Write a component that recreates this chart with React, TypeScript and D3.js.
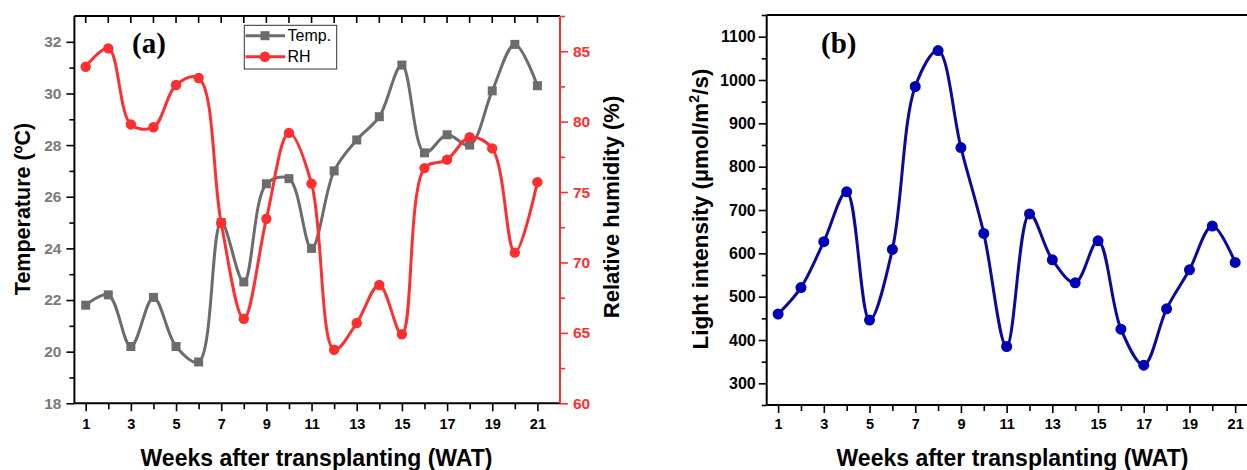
import React, { useEffect, useRef } from 'react';
import * as d3 from 'd3';

// ---------- data ----------
const weeks = [1, 2, 3, 4, 5, 6, 7, 8, 9, 10, 11, 12, 13, 14, 15, 16, 17, 18, 19, 20, 21];
const tempValues = [21.8, 22.2, 20.2, 22.1, 20.2, 19.6, 25.0, 22.7, 26.5, 26.7, 24.0, 27.0, 28.2, 29.1, 31.1, 27.7, 28.4, 28.0, 30.1, 31.9, 30.3];
const rhValues = [83.9, 85.2, 79.8, 79.6, 82.6, 83.1, 72.8, 66.0, 73.1, 79.2, 75.6, 63.8, 65.7, 68.4, 64.9, 76.7, 77.3, 78.9, 78.1, 70.7, 75.7];
const lightValues = [460, 521, 627, 742, 446, 609, 985, 1068, 844, 646, 385, 691, 585, 532, 629, 425, 342, 472, 562, 663, 579];

const xTickLabels = [1, 3, 5, 7, 9, 11, 13, 15, 17, 19, 21];
const tempTicks = [18, 20, 22, 24, 26, 28, 30, 32];
const tempMinor = [19, 21, 23, 25, 27, 29, 31];
const rhTicks = [60, 65, 70, 75, 80, 85];
const rhMinor = [62.5, 67.5, 72.5, 77.5, 82.5, 87.5];
const lightTicks = [300, 400, 500, 600, 700, 800, 900, 1000, 1100];
const lightMinor = [250, 350, 450, 550, 650, 750, 850, 950, 1050, 1150];

const GRAY = '#6c6c6c';
const RED = '#ff2f2f';
const BLUE = '#0a0a9c';
const SANS = '"Liberation Sans", Arial, sans-serif';
const SERIF = '"Liberation Serif", "DejaVu Serif", serif';

export default function App() {
  const ref = useRef<SVGSVGElement>(null);

  useEffect(() => {
    const svg = d3.select(ref.current);
    svg.selectAll('*').remove();

    // styles the axis text and tick lines, makes minor ticks shorter
    const styleAxis = (g: any, color: string, labelColor: string, minor: number[], majorLen: number, minorLen: number, dir: number, horizontal: boolean, fontSize: string) => {
      g.select('.domain').remove();
      g.selectAll('line').attr('stroke', color).attr('stroke-width', 1.6);
      g.selectAll('.tick').each(function (d: any) {
        const isMinor = minor.indexOf(d) >= 0;
        const len = (isMinor ? minorLen : majorLen) * dir;
        const line = d3.select(this).select('line');
        if (horizontal) line.attr('y2', len);
        else line.attr('x2', len);
      });
      g.selectAll('text')
        .attr('fill', labelColor)
        .style('font-family', SANS)
        .style('font-weight', 'bold')
        .style('font-size', fontSize);
    };

    // =============== PANEL (a) ===============
    const xA = d3.scaleLinear().domain([0.5, 22]).range([74.4, 560]);
    const yTemp = d3.scaleLinear().domain([18, 33]).range([403.3, 16]);
    const yRh = d3.scaleLinear().domain([60, 87.5]).range([403.3, 16]);
    const a = svg.append('g');

    // bottom axis
    const xAxisA = d3.axisBottom(xA).tickValues(weeks).tickSizeOuter(0)
      .tickFormat((d: any) => (xTickLabels.indexOf(d) >= 0 ? String(d) : ''));
    const gxa = a.append('g').attr('transform', 'translate(0,403.3)').call(xAxisA);
    styleAxis(gxa, '#000', '#000', weeks.filter(w => xTickLabels.indexOf(w) < 0), 8, 6, 1, true, '14.5px');
    gxa.selectAll('text').attr('y', 15);

    // top ticks (inward)
    a.append('g').selectAll('line').data(weeks).enter().append('line')
      .attr('x1', d => xA(d)).attr('x2', d => xA(d))
      .attr('y1', 16).attr('y2', 23)
      .attr('stroke', '#000').attr('stroke-width', 1.6);

    // left axis (temperature)
    const yAxisT = d3.axisLeft(yTemp).tickValues([...tempTicks, ...tempMinor]).tickSizeOuter(0)
      .tickFormat((d: any) => (tempTicks.indexOf(d) >= 0 ? String(d) : ''));
    const gyt = a.append('g').attr('transform', 'translate(74.4,0)').call(yAxisT);
    styleAxis(gyt, '#000', '#7a7a7a', tempMinor, 8, 5, -1, false, '15.5px');
    gyt.selectAll('text').attr('x', -13);

    // right axis (RH)
    const yAxisR = d3.axisRight(yRh).tickValues([...rhTicks, ...rhMinor]).tickSizeOuter(0)
      .tickFormat((d: any) => (rhTicks.indexOf(d) >= 0 ? String(d) : ''));
    const gyr = a.append('g').attr('transform', 'translate(560,0)').call(yAxisR);
    styleAxis(gyr, RED, RED, rhMinor, 8, 5, 1, false, '15.5px');
    gyr.selectAll('text').attr('x', 13);

    // frame
    a.append('line').attr('x1', 74.4).attr('x2', 560).attr('y1', 16).attr('y2', 16).attr('stroke', '#000').attr('stroke-width', 2);
    a.append('line').attr('x1', 74.4).attr('x2', 560).attr('y1', 403.3).attr('y2', 403.3).attr('stroke', '#000').attr('stroke-width', 2);
    a.append('line').attr('x1', 74.4).attr('x2', 74.4).attr('y1', 16).attr('y2', 403.3).attr('stroke', '#000').attr('stroke-width', 2);
    a.append('line').attr('x1', 560).attr('x2', 560).attr('y1', 16).attr('y2', 403.3).attr('stroke', RED).attr('stroke-width', 2);

    // temperature series
    const tempLine = d3.line<number>().x((d, i) => xA(weeks[i])).y(d => yTemp(d)).curve(d3.curveCatmullRom.alpha(0.5));
    a.append('path').attr('d', tempLine(tempValues)).attr('fill', 'none').attr('stroke', GRAY).attr('stroke-width', 3);
    a.selectAll('rect.temp').data(tempValues).enter().append('rect')
      .attr('class', 'temp')
      .attr('x', (d, i) => xA(weeks[i]) - 4.5).attr('y', d => yTemp(d) - 4.5)
      .attr('width', 9).attr('height', 9).attr('fill', GRAY);

    // RH series
    const rhLine = d3.line<number>().x((d, i) => xA(weeks[i])).y(d => yRh(d)).curve(d3.curveCatmullRom.alpha(0.5));
    a.append('path').attr('d', rhLine(rhValues)).attr('fill', 'none').attr('stroke', RED).attr('stroke-width', 3);
    a.selectAll('circle.rh').data(rhValues).enter().append('circle')
      .attr('class', 'rh')
      .attr('cx', (d, i) => xA(weeks[i])).attr('cy', d => yRh(d))
      .attr('r', 5.2).attr('fill', RED);

    // legend
    const leg = a.append('g');
    leg.append('rect').attr('x', 244.3).attr('y', 25.3).attr('width', 92.4).attr('height', 43.7)
      .attr('fill', '#fff').attr('stroke', '#333').attr('stroke-width', 1);
    const legItems = [
      { label: 'Temp.', color: GRAY, shape: 'square', y: 35.7 },
      { label: 'RH', color: RED, shape: 'circle', y: 56.7 },
    ];
    legItems.forEach(it => {
      leg.append('line').attr('x1', 245.5).attr('x2', 285).attr('y1', it.y).attr('y2', it.y)
        .attr('stroke', it.color).attr('stroke-width', 3);
      if (it.shape === 'square') {
        leg.append('rect').attr('x', 265 - 4.5).attr('y', it.y - 4.5).attr('width', 9).attr('height', 9).attr('fill', it.color);
      } else {
        leg.append('circle').attr('cx', 265).attr('cy', it.y).attr('r', 5.2).attr('fill', it.color);
      }
      leg.append('text').attr('x', 287.5).attr('y', it.y + 5.5)
        .style('font-family', SANS).style('font-size', '16px').attr('fill', '#000')
        .text(it.label);
    });

    // labels
    a.append('text').attr('x', 132).attr('y', 53)
      .style('font-family', SERIF).style('font-weight', 'bold').style('font-size', '29px')
      .text('(a)');
    a.append('text').attr('transform', 'translate(30,209) rotate(-90)')
      .style('font-family', SANS).style('font-weight', 'bold').style('font-size', '21.5px')
      .attr('text-anchor', 'middle').text('Temperature (ºC)');
    a.append('text').attr('transform', 'translate(619,207) rotate(-90)')
      .style('font-family', SANS).style('font-weight', 'bold').style('font-size', '22px')
      .attr('text-anchor', 'middle').text('Relative humidity (%)');
    a.append('text').attr('x', 316.5).attr('y', 466)
      .style('font-family', SANS).style('font-weight', 'bold').style('font-size', '23px')
      .attr('text-anchor', 'middle').text('Weeks after transplanting (WAT)');

    // =============== PANEL (b) ===============
    const xB = d3.scaleLinear().domain([0.5, 22]).range([766.7, 1258]);
    const yL = d3.scaleLinear().domain([250, 1150]).range([405, 15]);
    const b = svg.append('g');

    const xAxisB = d3.axisBottom(xB).tickValues(weeks).tickSizeOuter(0)
      .tickFormat((d: any) => (xTickLabels.indexOf(d) >= 0 ? String(d) : ''));
    const gxb = b.append('g').attr('transform', 'translate(0,405)').call(xAxisB);
    styleAxis(gxb, '#000', '#000', weeks.filter(w => xTickLabels.indexOf(w) < 0), 8, 6, 1, true, '14.5px');
    gxb.selectAll('text').attr('y', 14);

    const yAxisL = d3.axisLeft(yL).tickValues([...lightTicks, ...lightMinor]).tickSizeOuter(0)
      .tickFormat((d: any) => (lightTicks.indexOf(d) >= 0 ? String(d) : ''));
    const gyl = b.append('g').attr('transform', 'translate(766.7,0)').call(yAxisL);
    styleAxis(gyl, '#000', '#000', lightMinor, 8, 5, -1, false, '16px');
    gyl.selectAll('text').attr('x', -11);

    b.append('line').attr('x1', 766.7).attr('x2', 1258).attr('y1', 15).attr('y2', 15).attr('stroke', '#000').attr('stroke-width', 2);
    b.append('line').attr('x1', 766.7).attr('x2', 1258).attr('y1', 405).attr('y2', 405).attr('stroke', '#000').attr('stroke-width', 2);
    b.append('line').attr('x1', 766.7).attr('x2', 766.7).attr('y1', 15).attr('y2', 405).attr('stroke', '#000').attr('stroke-width', 2);

    const lightLine = d3.line<number>().x((d, i) => xB(weeks[i])).y(d => yL(d)).curve(d3.curveCatmullRom.alpha(0.5));
    b.append('path').attr('d', lightLine(lightValues)).attr('fill', 'none').attr('stroke', BLUE).attr('stroke-width', 3);
    b.selectAll('circle.light').data(lightValues).enter().append('circle')
      .attr('class', 'light')
      .attr('cx', (d, i) => xB(weeks[i])).attr('cy', d => yL(d))
      .attr('r', 5.5).attr('fill', '#0000b4');

    b.append('text').attr('x', 821).attr('y', 53)
      .style('font-family', SERIF).style('font-weight', 'bold').style('font-size', '29px')
      .text('(b)');
    const yt = b.append('text').attr('transform', 'translate(708,209) rotate(-90)')
      .style('font-family', SANS).style('font-weight', 'bold').style('font-size', '22.5px')
      .attr('text-anchor', 'middle');
    yt.append('tspan').text('Light intensity (µmol/m');
    yt.append('tspan').attr('dy', -9).style('font-size', '14px').text('2');
    yt.append('tspan').attr('dy', 9).text('/s)');
    b.append('text').attr('x', 1012.5).attr('y', 466)
      .style('font-family', SANS).style('font-weight', 'bold').style('font-size', '23px')
      .attr('text-anchor', 'middle').text('Weeks after transplanting (WAT)');
  }, []);

  return (
    <div style={{ position: 'absolute', left: 0, top: 0 }}>
      <svg ref={ref} width={1247} height={470} style={{ display: 'block', background: '#fff' }} />
    </div>
  );
}
